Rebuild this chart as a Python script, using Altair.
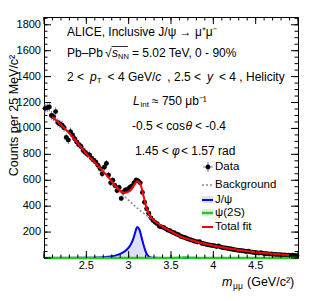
import altair as alt
import pandas as pd

FONT = "Liberation Sans"
W, H = 254, 241

# ---------------- data ----------------
data_m = [round(2.0125 + 0.025 * i, 4) for i in range(120)]
data_v = [1155, 1160, 1165, 1100, 1090, 1130, 1045, 1035, 1025, 1005,
          930, 910, 975, 950, 920, 895, 875, 860, 830, 815,
          800, 795, 770, 755, 740, 715, 690, 650, 700, 730,
          640, 580, 600, 560, 520, 545, 460, 510, 525, 530,
          545, 555, 580, 600, 595, 580, 505, 430, 380, 345,
          310, 290, 275, 265, 245, 240, 235, 225, 215, 210,
          200, 195, 185, 180, 168, 162, 158, 150, 144, 140,
          133, 128, 124, 126, 114, 110, 106, 102, 99, 96,
          94, 89, 93, 84, 80, 78, 75, 71, 70, 66,
          63, 60, 58, 56, 54, 50, 52, 47, 44, 42,
          41, 38, 40, 36, 33, 34, 30, 31, 28, 27,
          26, 25, 24, 23, 22, 22, 20, 21, 19, 18]

fit_m = [2.10, 2.20, 2.30, 2.40, 2.50, 2.60, 2.70, 2.80, 2.85, 2.90, 2.95,
         3.00, 3.025, 3.05, 3.075, 3.10, 3.125, 3.15, 3.175, 3.20, 3.225,
         3.25, 3.30, 3.35, 3.40, 3.50, 3.60, 3.70, 3.80, 3.90, 4.00,
         4.10, 4.20, 4.30, 4.40, 4.50, 4.60, 4.70, 4.80, 4.90]
fit_v = [1088, 1028, 962, 885, 805, 738, 668, 592, 552, 520, 503,
         512, 525, 548, 575, 592, 585, 548, 480, 412, 362,
         328, 290, 264, 242, 205, 170, 146, 126, 110, 96,
         83, 72, 62, 53, 45, 38, 32, 27, 23]

bkg_m = [2.10, 2.20, 2.30, 2.40, 2.50, 2.60, 2.70, 2.80, 2.85, 2.90, 2.95,
         3.00, 3.05, 3.10, 3.15, 3.20, 3.25, 3.30, 3.35, 3.40, 3.50,
         3.60, 3.70, 3.80, 3.90, 4.00, 4.10, 4.20, 4.30, 4.40, 4.50,
         4.60, 4.70, 4.80, 4.90]
bkg_v = [1088, 1028, 962, 885, 805, 738, 666, 588, 546, 508, 476,
         445, 415, 386, 358, 335, 310, 287, 263, 241, 205,
         170, 146, 126, 110, 96, 83, 72, 62, 53, 45,
         38, 32, 27, 23]

jpsi_m = [2.00, 2.50, 2.60, 2.70, 2.75, 2.80, 2.85, 2.90, 2.95, 3.00, 3.025,
          3.05, 3.075, 3.10, 3.125, 3.15, 3.175, 3.20, 3.225, 3.25, 3.30,
          3.40, 5.00]
jpsi_v = [0, 1, 3, 6, 9, 13, 20, 32, 50, 80, 105,
          140, 192, 240, 222, 165, 102, 52, 20, 6, 1,
          0, 0]

psi_m = [2.00, 3.50, 3.60, 3.65, 3.69, 3.75, 3.80, 5.00]
psi_v = [0, 0, 1, 3, 4, 2, 0, 0]

x_major = [2.0, 2.5, 3.0, 3.5, 4.0, 4.5, 5.0]
x_minor = [2.0, 2.1, 2.2, 2.3, 2.4, 2.5, 2.6, 2.7, 2.8, 2.9, 3.0,
           3.1, 3.2, 3.3, 3.4, 3.5, 3.6, 3.7, 3.8, 3.9, 4.0,
           4.1, 4.2, 4.3, 4.4, 4.5, 4.6, 4.7, 4.8, 4.9, 5.0]
x_labels = [2.5, 3.0, 3.5, 4.0, 4.5]
y_major = [0, 200, 400, 600, 800, 1000, 1200, 1400, 1600, 1800]
y_minor = [0, 50, 100, 150, 200, 250, 300, 350, 400, 450, 500, 550, 600,
           650, 700, 750, 800, 850, 900, 950, 1000, 1050, 1100, 1150, 1200,
           1250, 1300, 1350, 1400, 1450, 1500, 1550, 1600, 1650, 1700, 1750,
           1800, 1850]
y_labels = [200, 400, 600, 800, 1000, 1200, 1400, 1600, 1800]

# ---------------- scales ----------------
xs = alt.Scale(domain=[2, 5], nice=False, zero=False)
ys = alt.Scale(domain=[0, 1860], nice=False, zero=False)
X = lambda f: alt.X(f, scale=xs, axis=None, title=None)
Y = lambda f: alt.Y(f, scale=ys, axis=None, title=None)

pts = alt.Chart(pd.DataFrame({"m": data_m, "v": data_v}))

err_v = pts.transform_calculate(
    lo="datum.v - sqrt(datum.v)", hi="datum.v + sqrt(datum.v)"
).mark_rule(color="#7474d8", strokeWidth=1).encode(x=X("m:Q"), y=Y("lo:Q"), y2="hi:Q")
err_h = pts.transform_calculate(
    l="datum.m - 0.0125", r="datum.m + 0.0125"
).mark_rule(color="#7474d8", strokeWidth=1).encode(x=X("l:Q"), x2="r:Q", y=Y("v:Q"))
dots = pts.mark_circle(size=24, color="black", opacity=1).encode(x=X("m:Q"), y=Y("v:Q"))

jdf = alt.Chart(pd.DataFrame({"m": jpsi_m, "v": jpsi_v}))
j_fill = jdf.mark_area(color="#c3c8ef", opacity=0.55, interpolate="monotone").encode(x=X("m:Q"), y=Y("v:Q"))
j_line = jdf.mark_line(color="#0000ff", strokeWidth=2, interpolate="monotone").encode(x=X("m:Q"), y=Y("v:Q"))

bkg = alt.Chart(pd.DataFrame({"m": bkg_m, "v": bkg_v})).mark_line(
    color="#888888", strokeWidth=1.5, strokeDash=[2, 2], interpolate="monotone"
).encode(x=X("m:Q"), y=Y("v:Q"))

psi = alt.Chart(pd.DataFrame({"m": psi_m, "v": psi_v})).mark_line(
    color="#22cc22", strokeWidth=2.5, interpolate="monotone"
).encode(x=X("m:Q"), y=Y("v:Q"))

fit = alt.Chart(pd.DataFrame({"m": fit_m, "v": fit_v})).mark_line(
    color="#ff0000", strokeWidth=2, interpolate="monotone"
).encode(x=X("m:Q"), y=Y("v:Q"))

# ---------------- ticks (inside the frame) and tick labels ----------------
def xticks(vals, length):
    c = alt.Chart(pd.DataFrame({"t": vals}))
    bot = c.mark_rule(color="black", strokeWidth=1).encode(
        x=X("t:Q"), y=alt.value(H), y2=alt.value(H - length))
    top = c.mark_rule(color="black", strokeWidth=1).encode(
        x=X("t:Q"), y=alt.value(0), y2=alt.value(length))
    return [bot, top]

def yticks(vals, length):
    c = alt.Chart(pd.DataFrame({"t": vals}))
    left = c.mark_rule(color="black", strokeWidth=1).encode(
        y=Y("t:Q"), x=alt.value(0), x2=alt.value(length))
    right = c.mark_rule(color="black", strokeWidth=1).encode(
        y=Y("t:Q"), x=alt.value(W), x2=alt.value(W - length))
    return [left, right]

ticks = xticks(x_minor, 3.5) + xticks(x_major, 7) + yticks(y_minor, 3.5) + yticks(y_major, 7)

xlab = alt.Chart(pd.DataFrame({"t": x_labels})).mark_text(
    font=FONT, fontSize=11, align="center", baseline="middle", color="black"
).encode(x=X("t:Q"), y=alt.value(H + 8), text=alt.Text("t:Q", format="~g"))
ylab = alt.Chart(pd.DataFrame({"t": y_labels})).mark_text(
    font=FONT, fontSize=11, align="right", baseline="middle", color="black"
).encode(y=Y("t:Q"), x=alt.value(-3), text=alt.Text("t:Q", format="d"))

# ---------------- text ----------------
dummy = pd.DataFrame({"a": [0]})

def txt(s, x, y, size=12, style="normal", align="left", angle=0, baseline="middle"):
    kw = dict(text=s, fontSize=size, font=FONT, align=align, baseline=baseline, color="black")
    if style != "normal":
        kw["fontStyle"] = style
    if angle:
        kw["angle"] = angle
    return alt.Chart(dummy).mark_text(**kw).encode(x=alt.value(x), y=alt.value(y))

def hline(x1, x2, y, color, width=1, dash=None):
    kw = dict(color=color, strokeWidth=width)
    if dash:
        kw["strokeDash"] = dash
    return alt.Chart(dummy).mark_rule(**kw).encode(x=alt.value(x1), x2=alt.value(x2), y=alt.value(y))

def box(x1, x2, y1, y2, color, op):
    return alt.Chart(dummy).mark_rect(color=color, opacity=op).encode(
        x=alt.value(x1), x2=alt.value(x2), y=alt.value(y1), y2=alt.value(y2))

texts = [
    txt("ALICE, Inclusive J/\u03c8 \u2192 \u03bc\u207a\u03bc\u207b", 23, 15),
    # line 2
    txt("Pb\u2013Pb", 23, 36),
    txt("\u221a", 61, 36),
    hline(67.5, 84, 29.5, "black", 0.8),
    txt("s", 68, 36, style="italic"),
    txt("NN", 74, 39.5, size=7.5),
    txt("= 5.02 TeV, 0 - 90%", 88, 36),
    # line 3
    txt("2 <", 23, 60),
    txt("p", 46, 60, style="italic"),
    txt("T", 52.7, 63.5, size=8),
    txt("< 4 GeV/", 63.6, 60),
    txt("c", 111.3, 60, style="italic"),
    txt(", 2.5 <", 123.3, 60),
    txt("y", 163, 60, style="italic"),
    txt("< 4 , Helicity", 175, 60),
    # line 4
    txt("L", 89, 84, style="italic"),
    txt("int", 96.5, 87.5, size=8),
    txt("\u2248 750 \u03bcb\u207b\u00b9", 108, 84),
    # line 5
    txt("-0.5 < cos", 88, 109),
    txt("\u03b8", 141.5, 109, style="italic"),
    txt("< -0.4", 151, 109),
    # line 6
    txt("1.45 <", 91, 134),
    txt("\u03c6", 128, 134, style="italic"),
    txt("< 1.57 rad", 137, 134),
    # axis titles
    txt("Counts per 25 MeV/c\u00b2", -26.5, 98.5, size=12.5, align="center",
        angle=270, baseline="alphabetic"),
    txt("m", 178, 265, size=12.5, style="italic"),
    txt("\u03bc\u03bc", 189, 268.5, size=8.5),
    txt("(GeV/c\u00b2)", 203, 265, size=12.5),
]

# ---------------- legend ----------------
legend = [
    hline(159, 169, 150, "#7474d8"),
    alt.Chart(dummy).mark_rule(color="#7474d8").encode(x=alt.value(164), y=alt.value(145), y2=alt.value(155)),
    alt.Chart(dummy).mark_circle(size=24, color="black", opacity=1).encode(x=alt.value(164), y=alt.value(150)),
    txt("Data", 171, 150, size=11.5),
    hline(158, 169, 168, "#888888", 1.5, [2, 2]),
    txt("Background", 171, 168, size=11.5),
    box(158, 169, 179, 186, "#c3c8ef", 0.55),
    hline(158, 169, 183, "#0000ff", 2),
    txt("J/\u03c8", 171, 183, size=11.5),
    box(158, 169, 192, 199, "#c0ecc0", 0.6),
    hline(158, 169, 196, "#22cc22", 2.5),
    txt("\u03c8(2S)", 171, 196, size=11.5),
    hline(158, 169, 210, "#ff0000", 2),
    txt("Total fit", 171, 210, size=11.5),
]

chart = alt.layer(
    err_v, err_h, dots, j_fill, bkg, j_line, psi, fit, *ticks, xlab, ylab, *texts, *legend
).properties(
    width=W, height=H,
    padding={"left": 36, "top": 9, "right": 9, "bottom": 35},
    autosize=alt.AutoSizeParams(type="none"),
    background="white",
).configure_view(stroke="black", strokeWidth=1)

chart.save("out.html", embed_options={"renderer": "svg", "actions": False})
